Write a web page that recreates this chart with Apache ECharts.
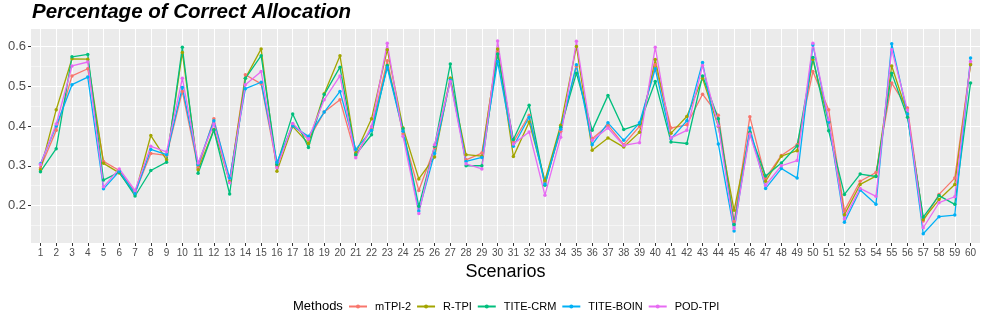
<!DOCTYPE html>
<html>
<head>
<meta charset="utf-8">
<script src="https://cdn.jsdelivr.net/npm/echarts@6/dist/echarts.min.js"></script>
<style>
  html, body { margin: 0; padding: 0; background: #ffffff; }
  #chart { width: 986px; height: 329px; }
</style>
</head>
<body>
<div id="chart"></div>
<script>
// scenarios 1..60
const scenarios = [];
for (let i = 1; i <= 60; i++) scenarios.push(i);

const methods = ["mTPI-2", "R-TPI", "TITE-CRM", "TITE-BOIN", "POD-TPI"];
const colors = ["#F8766D", "#A3A500", "#00BF7D", "#00B0F6", "#E76BF3"];

const mtpi2 = [
  0.295, 0.389, 0.526, 0.544, 0.311, 0.288, 0.233, 0.331, 0.326, 0.487,
  0.295, 0.418, 0.259, 0.529, 0.506, 0.300, 0.405, 0.366, 0.435, 0.466,
  0.326, 0.395, 0.564, 0.380, 0.238, 0.345, 0.520, 0.315, 0.332, 0.587,
  0.360, 0.427, 0.258, 0.387, 0.550, 0.368, 0.402, 0.353, 0.399, 0.554,
  0.395, 0.403, 0.480, 0.427, 0.160, 0.423, 0.269, 0.326, 0.353, 0.537,
  0.441, 0.187, 0.261, 0.283, 0.508, 0.445, 0.161, 0.228, 0.269, 0.556
];
const rtpi = [
  0.290, 0.441, 0.569, 0.568, 0.306, 0.282, 0.229, 0.376, 0.315, 0.585,
  0.290, 0.391, 0.260, 0.520, 0.594, 0.286, 0.399, 0.356, 0.481, 0.577,
  0.332, 0.418, 0.592, 0.395, 0.267, 0.322, 0.520, 0.328, 0.324, 0.594,
  0.323, 0.410, 0.263, 0.402, 0.600, 0.339, 0.370, 0.347, 0.384, 0.567,
  0.382, 0.424, 0.520, 0.399, 0.188, 0.382, 0.261, 0.324, 0.338, 0.567,
  0.410, 0.177, 0.253, 0.274, 0.551, 0.430, 0.165, 0.215, 0.253, 0.554
];
const titeCrm = [
  0.285, 0.343, 0.574, 0.580, 0.264, 0.284, 0.224, 0.288, 0.309, 0.598,
  0.281, 0.390, 0.229, 0.520, 0.577, 0.303, 0.430, 0.346, 0.479, 0.548,
  0.328, 0.378, 0.552, 0.393, 0.198, 0.349, 0.556, 0.300, 0.300, 0.581,
  0.366, 0.452, 0.251, 0.397, 0.533, 0.389, 0.477, 0.391, 0.405, 0.512,
  0.360, 0.356, 0.526, 0.418, 0.152, 0.384, 0.274, 0.307, 0.350, 0.572,
  0.388, 0.228, 0.279, 0.273, 0.533, 0.422, 0.171, 0.225, 0.203, 0.508
];
const titeBoin = [
  0.305, 0.400, 0.504, 0.523, 0.242, 0.286, 0.230, 0.341, 0.328, 0.497,
  0.303, 0.413, 0.269, 0.494, 0.510, 0.309, 0.400, 0.374, 0.435, 0.487,
  0.341, 0.389, 0.547, 0.387, 0.186, 0.331, 0.516, 0.311, 0.321, 0.562,
  0.349, 0.422, 0.254, 0.392, 0.554, 0.353, 0.408, 0.364, 0.408, 0.544,
  0.368, 0.413, 0.560, 0.355, 0.136, 0.395, 0.243, 0.293, 0.269, 0.604,
  0.410, 0.158, 0.239, 0.203, 0.607, 0.430, 0.129, 0.172, 0.176, 0.571
];
const podTpi = [
  0.303, 0.405, 0.551, 0.561, 0.247, 0.292, 0.238, 0.349, 0.335, 0.520,
  0.307, 0.405, 0.257, 0.504, 0.537, 0.295, 0.406, 0.368, 0.466, 0.526,
  0.320, 0.399, 0.608, 0.374, 0.180, 0.353, 0.512, 0.305, 0.292, 0.614,
  0.355, 0.385, 0.226, 0.372, 0.613, 0.364, 0.395, 0.351, 0.358, 0.598,
  0.370, 0.389, 0.552, 0.400, 0.142, 0.380, 0.251, 0.300, 0.313, 0.608,
  0.416, 0.167, 0.243, 0.223, 0.592, 0.440, 0.144, 0.207, 0.222, 0.562
];

const yMajor = [0.2, 0.3, 0.4, 0.5, 0.6];
const yMinor = [0.15, 0.25, 0.35, 0.45, 0.55];

const FONT = "'Liberation Sans', Arial, sans-serif";

document.addEventListener("DOMContentLoaded", function () {
  const allValues = [mtpi2, rtpi, titeCrm, titeBoin, podTpi];
  let chart = echarts.init(document.getElementById("chart"), null, {
    renderer: "canvas",
  });

  let series = methods.map((name, k) => ({
    name: name,
    type: "line",
    data: scenarios.map((s, i) => [s, allValues[k][i]]),
    symbol: "circle",
    symbolSize: 3.5,
    showSymbol: true,
    lineStyle: { width: 1.3, color: colors[k] },
    itemStyle: { color: colors[k] },
    emphasis: { disabled: true },
  }));

  let option = {
    animation: false,
    title: [
      {
        text: "Percentage of Correct Allocation",
        left: 32,
        top: 2,
        padding: 0,
        textStyle: {
          fontFamily: FONT,
          fontSize: 20.5,
          fontWeight: "bold",
          fontStyle: "italic",
          color: "#000000",
        },
      },
      {
        text: "Methods",
        left: 293,
        top: 300,
        padding: 0,
        textStyle: {
          fontFamily: FONT,
          fontSize: 13,
          fontWeight: "normal",
          color: "#000000",
        },
      },
    ],
    legend: {
      data: methods,
      left: 348,
      top: 301,
      padding: 0,
      itemWidth: 18,
      itemHeight: 5,
      itemGap: 5,
      textStyle: {
        fontFamily: FONT,
        fontSize: 11,
        color: "#000000",
        padding: [0, 0, 0, 3],
      },
    },
    grid: {
      left: 31,
      right: 6,
      top: 29,
      bottom: 86,
      containLabel: false,
      backgroundColor: "#EBEBEB",
      show: true,
      borderWidth: 0,
    },
    xAxis: {
      type: "value",
      min: 0.4,
      max: 60.6,
      name: "Scenarios",
      nameLocation: "middle",
      nameGap: 16,
      nameTextStyle: { fontFamily: FONT, fontSize: 18, color: "#000000" },
      axisLine: { show: false },
      axisTick: {
        show: true,
        length: 3,
        customValues: scenarios,
        lineStyle: { color: "#333333", width: 1 },
      },
      axisLabel: {
        customValues: scenarios,
        margin: 5,
        fontFamily: FONT,
        fontSize: 10,
        color: "#4D4D4D",
      },
      splitLine: { show: true, lineStyle: { color: "#FFFFFF", width: 1.1 } },
    },
    yAxis: [
      {
        type: "value",
        min: 0.1057,
        max: 0.644,
        axisLine: { show: false },
        axisTick: {
          show: true,
          length: 3,
          customValues: yMajor,
          lineStyle: { color: "#333333", width: 1 },
        },
        axisLabel: {
          customValues: yMajor,
          margin: 5,
          fontFamily: FONT,
          fontSize: 13,
          color: "#4D4D4D",
          formatter: (v) => v.toFixed(1),
        },
        splitLine: { show: true, lineStyle: { color: "#FFFFFF", width: 1.1 } },
      },
      {
        type: "value",
        min: 0.1057,
        max: 0.644,
        position: "left",
        axisLine: { show: false },
        axisTick: { show: false, customValues: yMinor },
        axisLabel: { show: false, customValues: yMinor },
        splitLine: { show: true, lineStyle: { color: "#FFFFFF", width: 0.5 } },
      },
    ],
    series: series,
  };
  option && chart.setOption(option);
});
</script>
</body>
</html>
